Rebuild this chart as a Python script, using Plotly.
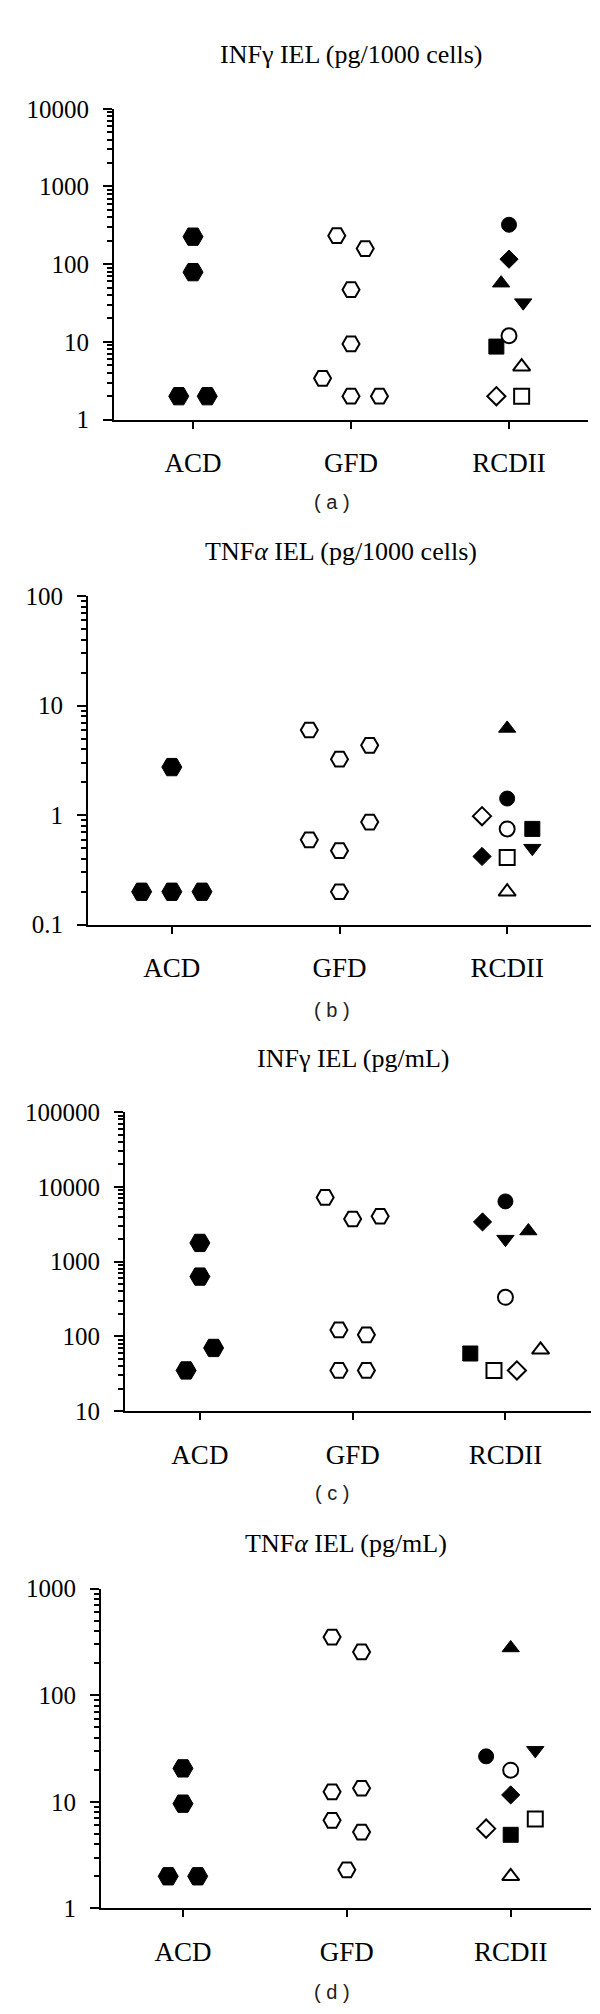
import plotly.graph_objects as go

# ---------------- data ----------------
categories = ["ACD", "GFD", "RCDII"]

# RCDII patients: one symbol per patient (same order in every panel)
rcd_symbols = ["circle", "diamond", "triangle-up", "triangle-down", "circle",
               "square", "triangle-up", "diamond", "square"]
rcd_filled = [True, True, True, True, False, True, False, False, False]

# (a) INFγ IEL (pg/1000 cells)
a_acd = [226, 79, 2, 2]
a_acd_jit = [0, 0, -0.09, 0.09]
a_gfd = [233, 159, 47, 9.4, 3.4, 2, 2]
a_gfd_jit = [-0.09, 0.09, 0, 0, -0.18, 0, 0.18]
a_rcd = [322, 116, 57, 32, 12, 8.7, 4.8, 2, 2]
a_rcd_jit = [0, 0, -0.05, 0.09, 0, -0.08, 0.08, -0.08, 0.08]

# (b) TNFα IEL (pg/1000 cells)
b_acd = [2.75, 0.2, 0.2, 0.2]
b_acd_jit = [0, -0.18, 0, 0.18]
b_gfd = [6.0, 3.25, 4.35, 0.865, 0.596, 0.474, 0.2]
b_gfd_jit = [-0.18, 0, 0.18, 0.18, -0.18, 0, 0]
b_rcd = [1.42, 0.42, 6.2, 0.50, 0.75, 0.75, 0.2, 0.98, 0.41]
b_rcd_jit = [0, -0.15, 0, 0.15, 0, 0.15, 0, -0.15, 0]

# (c) INFγ IEL (pg/mL)
c_acd = [1780, 631, 70, 35]
c_acd_jit = [0, 0, 0.09, -0.09]
c_gfd = [7240, 3720, 4050, 122, 105, 35, 35]
c_gfd_jit = [-0.18, 0, 0.18, -0.09, 0.09, -0.09, 0.09]
c_rcd = [6400, 3400, 2570, 2000, 333, 59, 66, 35, 35]
c_rcd_jit = [0, -0.15, 0.15, 0, 0, -0.23, 0.23, 0.075, -0.075]

# (d) TNFα IEL (pg/mL)
d_acd = [20.6, 9.6, 2, 2]
d_acd_jit = [0, 0, -0.09, 0.09]
d_gfd = [352, 255, 12.4, 13.4, 6.7, 5.2, 2.3]
d_gfd_jit = [-0.09, 0.09, -0.09, 0.09, -0.09, 0.09, 0]
d_rcd = [26.7, 11.6, 278, 30.4, 19.8, 4.9, 2.0, 5.6, 6.9]
d_rcd_jit = [-0.15, 0, 0, 0.15, 0, 0, 0, -0.15, 0.15]

titles = ["INFγ IEL (pg/1000 cells)", "TNF<i>α</i> IEL (pg/1000 cells)",
          "INFγ IEL (pg/mL)", "TNF<i>α</i> IEL (pg/mL)"]
panel_labels = ["( a )", "( b )", "( c )", "( d )"]
y_tickvals = [[1, 10, 100, 1000, 10000], [0.1, 1, 10, 100],
              [10, 100, 1000, 10000, 100000], [1, 10, 100, 1000]]
y_ticktext = [["1", "10", "100", "1000", "10000"], ["0.1", "1", "10", "100"],
              ["10", "100", "1000", "10000", "100000"], ["1", "10", "100", "1000"]]
y_ranges = [(0, 4), (-1, 2), (1, 5), (0, 3)]  # log10 decades

# ---------------- layout geometry (pixels) ----------------
W, H = 600, 2014
geom = [
    dict(l=106, r=580, t=89, b=404, xr=(-0.5, 2.5), tx=343, ty=34, ly=488),
    dict(l=80, r=583, t=583, b=916, xr=(-0.5, 2.5), tx=333, ty=538, ly=1002),
    dict(l=117, r=583, t=1106, b=1409, xr=(-0.49, 2.56), tx=345, ty=1052, ly=1492),
    dict(l=93, r=583, t=1589, b=1913, xr=(-0.5, 2.49), tx=338, ty=1543, ly=1998),
]

panels = [
    (a_acd, a_acd_jit, a_gfd, a_gfd_jit, a_rcd, a_rcd_jit),
    (b_acd, b_acd_jit, b_gfd, b_gfd_jit, b_rcd, b_rcd_jit),
    (c_acd, c_acd_jit, c_gfd, c_gfd_jit, c_rcd, c_rcd_jit),
    (d_acd, d_acd_jit, d_gfd, d_gfd_jit, d_rcd, d_rcd_jit),
]

SERIF = "Liberation Serif"
fig = go.Figure()

for i, (acd, acdj, gfd, gfdj, rcd, rcdj) in enumerate(panels):
    sfx = "" if i == 0 else str(i + 1)
    xa, ya = "x" + sfx, "y" + sfx
    # ACD: filled hexagons
    fig.add_trace(go.Scatter(
        x=[0 + j for j in acdj], y=acd, mode="markers", xaxis=xa, yaxis=ya,
        marker=dict(symbol="hexagon2", size=20, color="black", opacity=1,
                    line=dict(color="black", width=1)),
        hoverinfo="y"))
    # GFD: open hexagons
    fig.add_trace(go.Scatter(
        x=[1 + j for j in gfdj], y=gfd, mode="markers", xaxis=xa, yaxis=ya,
        marker=dict(symbol="hexagon2", size=17, color="white", opacity=1,
                    line=dict(color="black", width=2)),
        hoverinfo="y"))
    # RCDII: filled first, then open on top
    for want_filled in (True, False):
        idx = [k for k in range(len(rcd)) if rcd_filled[k] == want_filled]
        fig.add_trace(go.Scatter(
            x=[2 + rcdj[k] for k in idx], y=[rcd[k] for k in idx],
            mode="markers", xaxis=xa, yaxis=ya,
            marker=dict(symbol=[rcd_symbols[k] for k in idx],
                        size=[14 if rcd_symbols[k] == "diamond" else 15 for k in idx],
                        color="black" if want_filled else "white", opacity=1,
                        line=dict(color="black", width=1 if want_filled else 2)),
            hoverinfo="y"))

    g = geom[i]
    fig.layout["xaxis" + sfx] = dict(
        domain=[g["l"] / W, g["r"] / W], range=list(g["xr"]), anchor=ya,
        tickmode="array", tickvals=[0, 1, 2], ticktext=categories,
        ticks="outside", ticklen=7, tickwidth=2, tickcolor="black",
        showline=True, linewidth=2, linecolor="black",
        showgrid=False, zeroline=False,
        tickfont=dict(family=SERIF, size=27, color="black"),
        ticklabelstandoff=11)
    fig.layout["yaxis" + sfx] = dict(
        type="log", domain=[1 - g["b"] / H, 1 - g["t"] / H], range=list(y_ranges[i]),
        anchor=xa, tickmode="array", tickvals=y_tickvals[i], ticktext=y_ticktext[i],
        ticks="outside", ticklen=9, tickwidth=2, tickcolor="black",
        minor=dict(ticks="outside", ticklen=5, tickwidth=1.5, tickcolor="black",
                   dtick="D1", showgrid=False),
        showline=True, linewidth=2, linecolor="black",
        showgrid=False, zeroline=False,
        tickfont=dict(family=SERIF, size=25, color="black"),
        ticklabelstandoff=9)

    fig.add_annotation(text=titles[i], x=g["tx"] / W, y=1 - g["ty"] / H,
                       xref="paper", yref="paper", xanchor="center", yanchor="middle",
                       showarrow=False, font=dict(family=SERIF, size=26, color="black"))
    fig.add_annotation(text=panel_labels[i], x=324 / W, y=1 - g["ly"] / H,
                       xref="paper", yref="paper", xanchor="center", yanchor="middle",
                       showarrow=False,
                       font=dict(family="Liberation Sans", size=20, color="#222222"))

fig.update_layout(
    width=W, height=H, margin=dict(l=0, r=0, t=0, b=0),
    paper_bgcolor="white", plot_bgcolor="white", showlegend=False)

fig.write_html("out.html")
